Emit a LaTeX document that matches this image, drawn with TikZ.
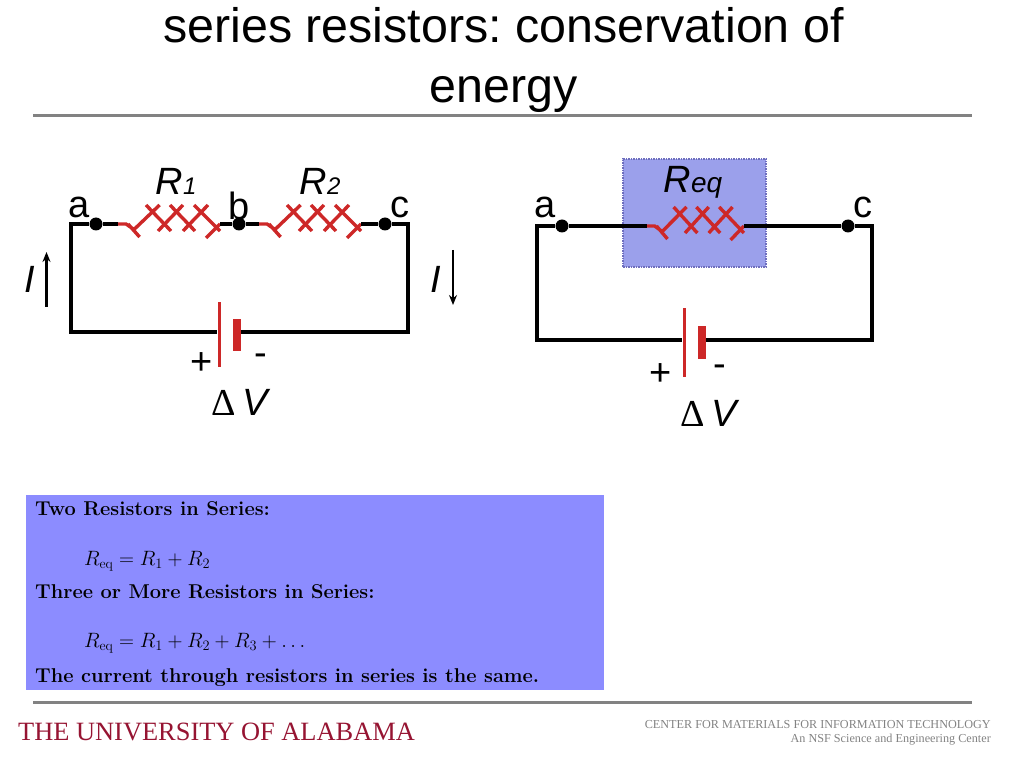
\documentclass[tikz,border=0pt]{standalone}
\usepackage{fontspec}
\usepackage{amsmath}
\usepackage{xcolor}
\usetikzlibrary{arrows.meta}
\newfontfamily\arialfont{Liberation Sans}
\newfontfamily\timesfont{Liberation Serif}
\definecolor{batred}{RGB}{205,40,40}
\definecolor{rulegray}{RGB}{130,130,130}
\definecolor{boxblue}{RGB}{140,140,255}
\definecolor{reqblue}{RGB}{155,160,235}
\definecolor{reqedge}{RGB}{110,110,190}
\definecolor{bamared}{RGB}{150,20,50}
\frenchspacing
\tikzset{>={Stealth[length=10pt,width=8pt]}}
\tikzset{%
    wire/.style={line width=3.2pt,black,line join=miter},
    dot/.style={circle,fill=black,inner sep=0pt,minimum size=13pt},
    plate/.style={rectangle,fill=batred,inner sep=0pt,minimum width=#1},
    lab/.style={font=\arialfont\fontsize{38}{40}\selectfont,inner sep=0pt},
    sign/.style={font=\arialfont\fontsize{38}{40}\selectfont,inner sep=0pt},
    boxtext/.style={anchor=base west,inner sep=0pt,font=\fontsize{20}{22}\selectfont},
    resistor/.pic={%
        \draw[line width=3.4pt,batred]
            (0,0) -- (8,0) -- (16,5.5) (10,0) -- (21.6,13)
            (16,5.5) -- (41.6,-19) (28,-19) -- (53,7)
            (40,7) -- (65,-19) (52,-19) -- (77,7)
            (65,7) -- (90,-19) (76,-19) -- (102,7)
            (88,14) -- (102,0);
        \coordinate (-in) at (0,0);
        \coordinate (-out) at (102,0);
    }
}

\begin{document}
\begin{tikzpicture}[x=1pt,y=-1pt]
\useasboundingbox (0,0) rectangle (1023,767);

\node[align=center,inner sep=0pt,font=\arialfont\fontsize{48.4}{60}\selectfont] (title) at (503.5,60) {series resistors: conservation of\\energy};
\coordinate (ruleTL) at (33,116);
\coordinate (ruleTR) at (972,116);
\draw[line width=3pt,rulegray] (ruleTL) -- (ruleTR);

% left circuit
\node[dot] (a1) at (96,224) {};
\node[dot] (b1) at (239,224) {};
\node[dot] (c1) at (385,224) {};
\coordinate (lt1) at (71,224);
\coordinate (lb1) at (71,332);
\coordinate (rt1) at (408,224);
\coordinate (rb1) at (408,332);
\node[plate=3pt,minimum height=65pt] (plus1) at (219,334.5) {};
\node[plate=8pt,minimum height=32pt] (minus1) at (237,335) {};
\pic (r1) at (118,224) {resistor};
\pic (r2) at (259,224) {resistor};
\draw[wire] (a1) -- (r1-in);
\draw[wire] (r1-out) -- (b1);
\draw[wire] (b1) -- (r2-in);
\draw[wire] (r2-out) -- (c1);
\draw[wire] (a1) -- (lt1) -- (lb1) -- (lb1-|plus1.west);
\draw[wire] (c1) -- (rt1) -- (rb1) -- (rb1-|minus1.east);

\node[lab] (alab1) at (79,207) {a};
\node[lab] (blab1) at (239,206) {b};
\node[lab] (clab1) at (400,207) {c};
\node[lab,anchor=base] (rlab1) at (176,195) {\itshape R\fontsize{24}{24}\selectfont 1};
\node[lab,anchor=base] (rlab2) at (320,195) {\itshape R\fontsize{24}{24}\selectfont 2};
\node[lab] (ilab1) at (30,279) {\itshape I};
\node[lab] (ilab2) at (436,279) {\itshape I};
\coordinate (iu1) at (46.5,252);
\coordinate (id1) at (46.5,307);
\coordinate (iu2) at (453,250);
\coordinate (id2) at (453,305);
\draw[->,line width=2.2pt] (id1) -- (iu1);
\draw[->,line width=2.2pt] (iu2) -- (id2);
\node[sign] (pl1) at (202,364) {+};
\node[sign] (mi1) at (261,360) {-};
\node[lab,anchor=base] (dv1) at (240,415) {{\timesfont Δ}\,\itshape V};

% right circuit
\node[rectangle,draw=reqedge,densely dotted,line width=1.5pt,fill=reqblue,minimum width=143pt,minimum height=108pt,inner sep=0pt] (reqbox) at (694.5,213) {};
\node[dot] (a2) at (562,226) {};
\node[dot] (c2) at (848,226) {};
\coordinate (lt2) at (537,226);
\coordinate (lb2) at (537,340);
\coordinate (rt2) at (872,226);
\coordinate (rb2) at (872,340);
\node[plate=3pt,minimum height=69pt] (plus2) at (684,342.5) {};
\node[plate=8pt,minimum height=33pt] (minus2) at (702,342.5) {};
\pic[xscale=0.95] (r3) at (647,226) {resistor};
\draw[wire] (a2) -- (r3-in);
\draw[wire] (r3-out) -- (c2);
\draw[wire] (a2) -- (lt2) -- (lb2) -- (lb2-|plus2.west);
\draw[wire] (c2) -- (rt2) -- (rb2) -- (rb2-|minus2.east);

\node[lab] (alab2) at (545,207) {a};
\node[lab] (clab2) at (863,207) {c};
\node[lab,anchor=base] (rlab3) at (693,193) {\itshape R\fontsize{28}{28}\selectfont eq};
\node[sign] (pl2) at (661,375) {+};
\node[sign] (mi2) at (720,371) {-};
\node[lab,anchor=base] (dv2) at (709,426) {{\timesfont Δ}\,\itshape V};

% formula box
\node[rectangle,fill=boxblue,minimum width=578pt,minimum height=195pt,inner sep=0pt] (formbox) at (315,592.5) {};
\node[boxtext] (two) at (35,515) {\bfseries Two Resistors in Series:};
\node[boxtext] (eqtwo) at (84,565) {$R_{\mathrm{eq}}=R_1+R_2$};
\node[boxtext] (three) at (35,598) {\bfseries Three or More Resistors in Series:};
\node[boxtext] (eqthree) at (84,647) {$R_{\mathrm{eq}}=R_1+R_2+R_3+\ldots$};
\node[boxtext] (same) at (35,682) {\bfseries The current through resistors in series is the same.};

% footer
\coordinate (ruleBL) at (33,702);
\coordinate (ruleBR) at (972,702);
\draw[line width=3pt,rulegray] (ruleBL) -- (ruleBR);
\node[anchor=base west,inner sep=0pt,text=bamared,font=\timesfont\fontsize{26.4}{27}\selectfont] (bama) at (18,740) {THE UNIVERSITY OF ALABAMA};
\node[anchor=base east,inner sep=0pt,text=rulegray,font=\timesfont\fontsize{12.2}{13}\selectfont] (center) at (991,728) {CENTER FOR MATERIALS FOR INFORMATION TECHNOLOGY};
\node[anchor=base east,inner sep=0pt,text=rulegray,font=\timesfont\fontsize{12.2}{13}\selectfont] (nsf) at (991,742) {An NSF Science and Engineering Center};
\end{tikzpicture}
\end{document}
